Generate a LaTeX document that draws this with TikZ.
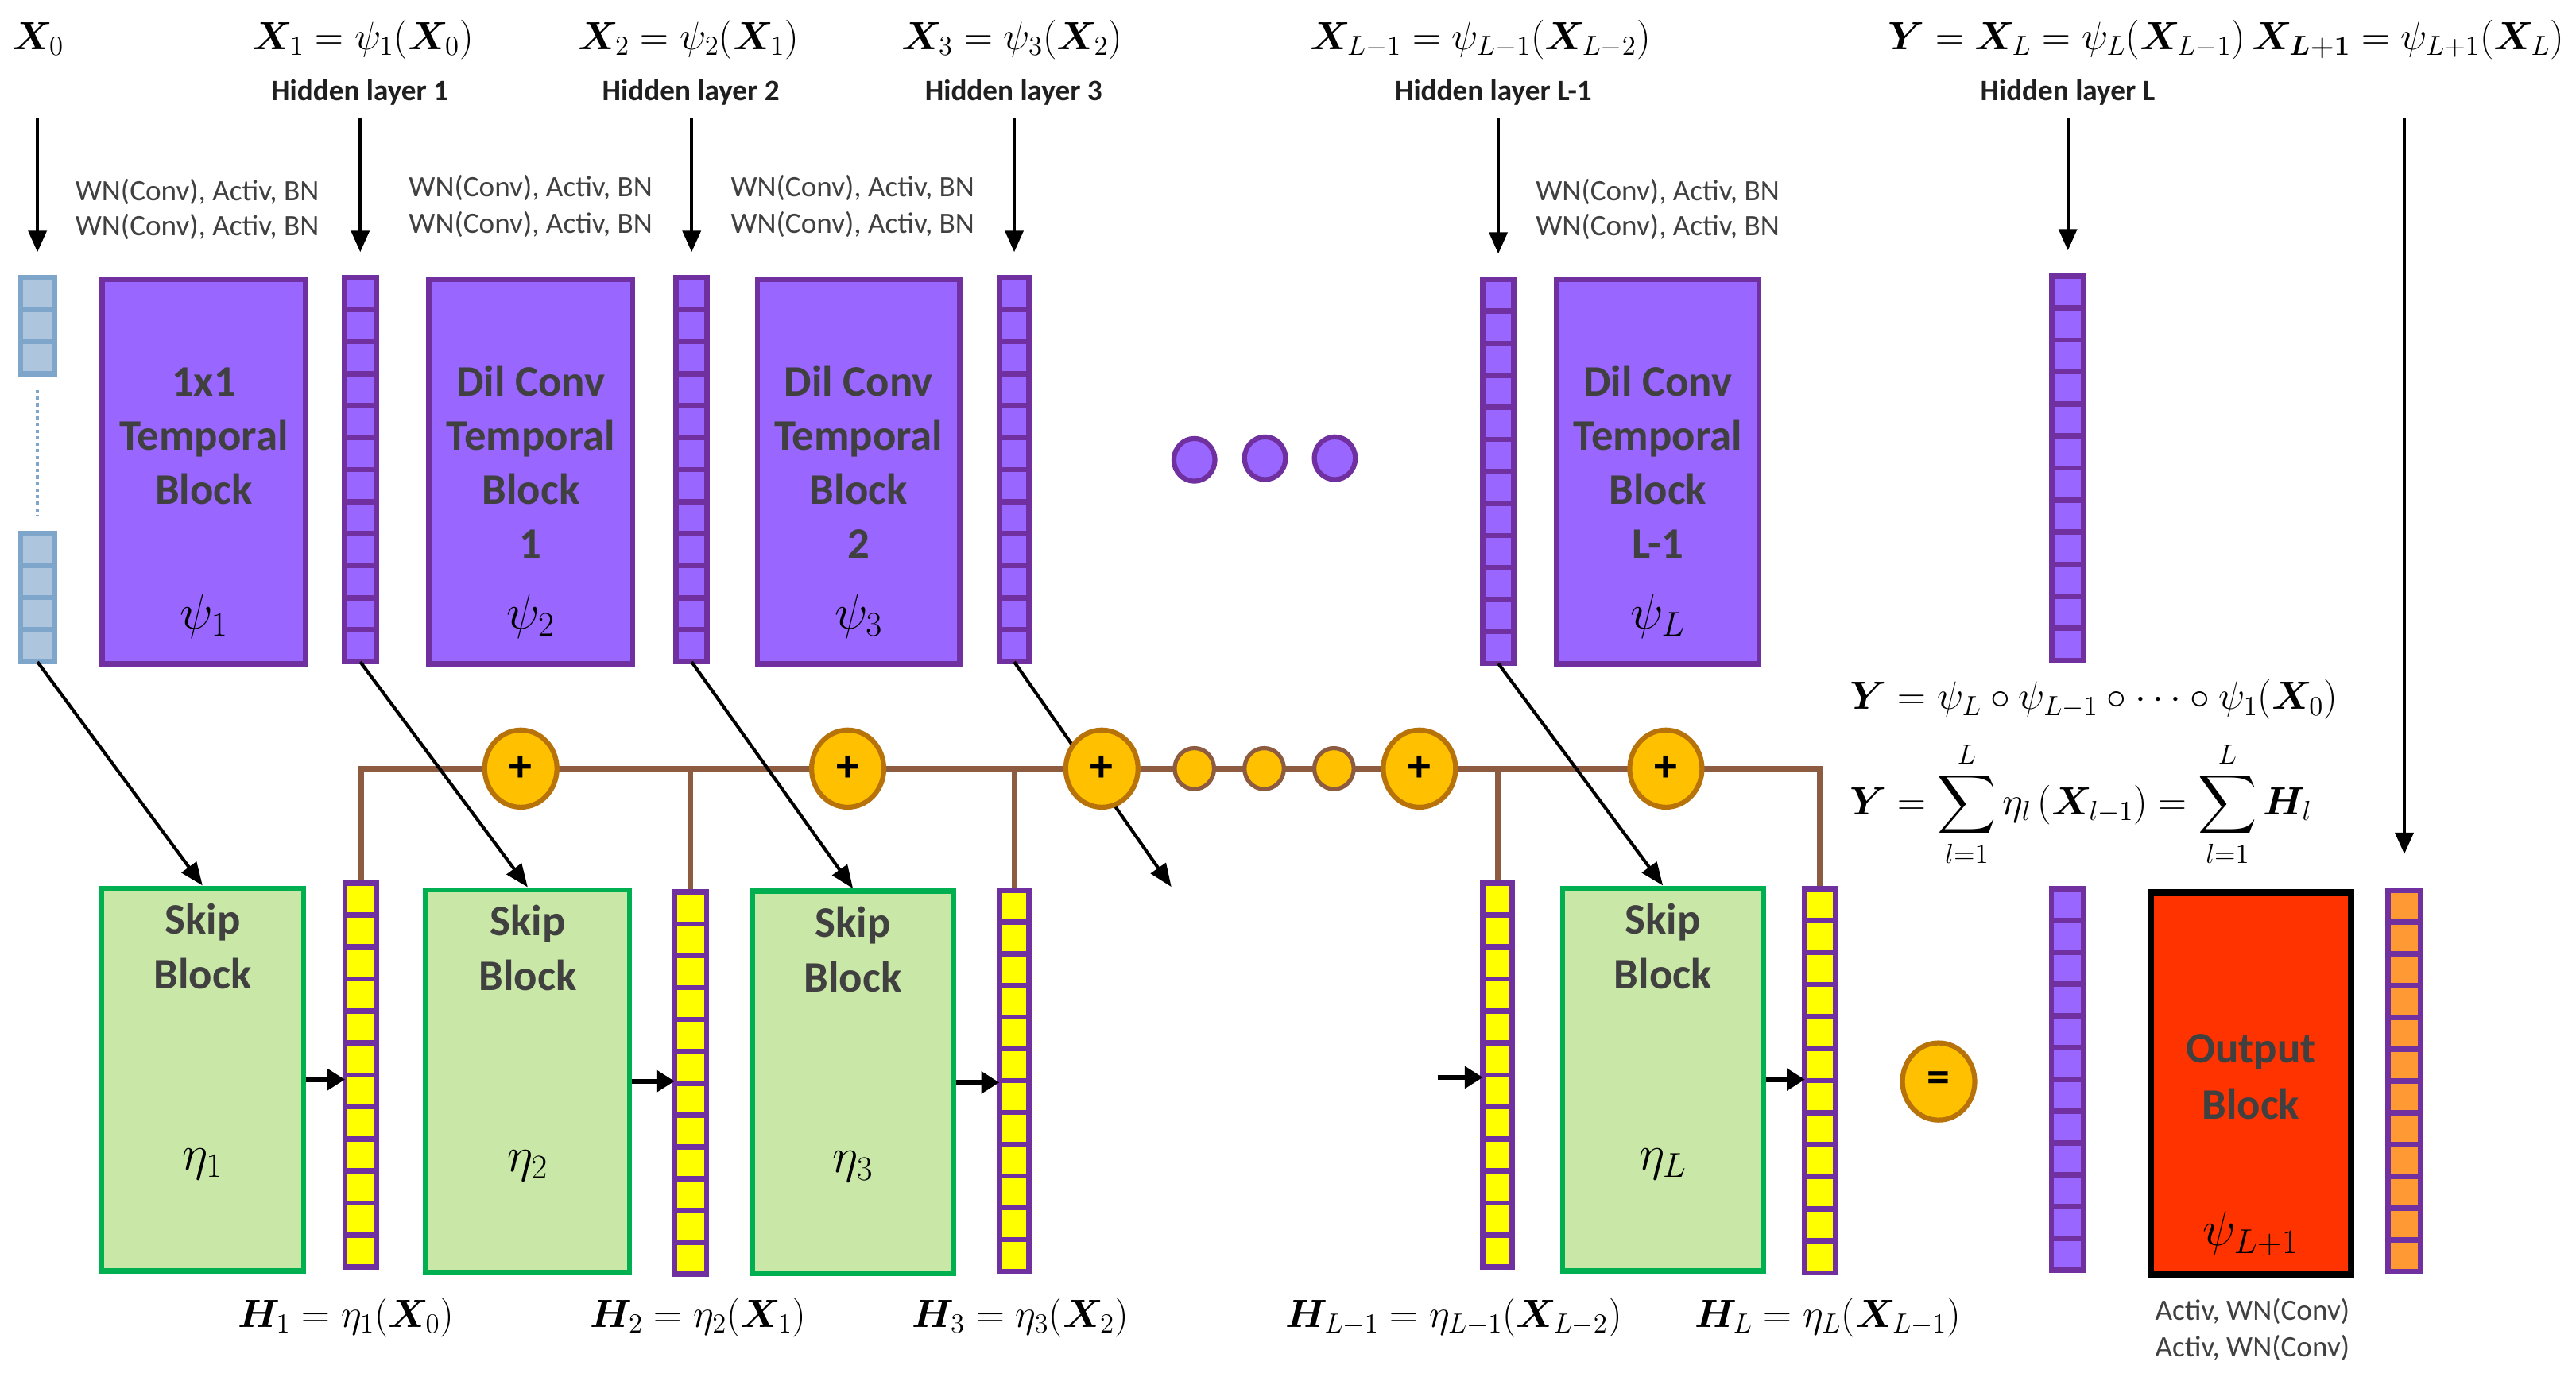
\RequirePackage{fix-cm}
\documentclass[tikz,border=0pt]{standalone}
\usepackage{amsmath}
\usepackage{bm}
\usepackage{fontspec}
\newfontfamily\cfont{Carlito}
\usetikzlibrary{calc,arrows.meta,shapes.geometric}
\pgfdeclarelayer{bg}
\pgfsetlayers{bg,main}
\definecolor{pF}{HTML}{9966FF}
\definecolor{pD}{HTML}{7030A0}
\definecolor{xF}{HTML}{ADC6DD}
\definecolor{xD}{HTML}{7EA6CA}
\definecolor{gF}{HTML}{C9E7A7}
\definecolor{gD}{HTML}{00B050}
\definecolor{yF}{HTML}{FFFF00}
\definecolor{rF}{HTML}{FF3300}
\definecolor{ocF}{HTML}{FF9933}
\definecolor{oF}{HTML}{FFC000}
\definecolor{oD}{HTML}{B8720A}
\definecolor{bD}{HTML}{8D5B3F}
\definecolor{txtG}{HTML}{404040}
\newcommand{\blkf}{\cfont\bfseries\fontsize{26.5}{33}\selectfont}
\newcommand{\wnf}{\cfont\fontsize{18}{22}\selectfont}
\newcommand{\hidf}{\cfont\bfseries\fontsize{18}{22}\selectfont}
\newcommand{\msz}{\fontsize{24}{28}\selectfont}
\newcommand{\ssz}{\fontsize{30}{34}\selectfont}
\newcommand{\plsf}{\cfont\bfseries\fontsize{28}{30}\selectfont}
% column of cells: name, xleft, ytop, xright, ybottom, nsep, fill, draw
\newcommand{\vcol}[8]{%
  \node[draw=#8, fill=#7, line width=3.2pt, inner sep=0pt, outer sep=0pt, anchor=north west,
        minimum width={(#4)-(#2)}, minimum height={(#5)-(#3)}] (#1) at (#2,#3) {};
  \foreach \k in {1,...,#6}{\draw[#8, line width=3.2pt]
     ($(#1.north west)!{\k/(#6+1)}!(#1.south west)$) -- ($(#1.north east)!{\k/(#6+1)}!(#1.south east)$);}
}
\begin{document}
\begin{tikzpicture}[x=1pt,y=-1pt,
 arr/.style={-{Triangle[length=13pt,width=11pt]}, line width=2pt, draw=black},
 darr/.style={-{Triangle[length=14pt,width=11pt]}, line width=2pt, draw=black},
 harr/.style={-{Triangle[length=11pt,width=13pt]}, line width=3pt, draw=black},
 tblock/.style={draw=pD, fill=pF, line width=3.2pt, inner sep=0pt, anchor=north west, minimum width=124pt, minimum height=234pt},
 sblock/.style={draw=gD, fill=gF, line width=3.2pt, inner sep=0pt, anchor=north west, minimum width=123pt, minimum height=233pt},
 plus/.style={ellipse, draw=oD, fill=oF, line width=3pt, minimum width=44pt, minimum height=47pt, inner sep=0pt, font=\plsf},
 odot/.style={ellipse, draw=bD, fill=oF, line width=2.5pt, minimum width=24pt, minimum height=25pt, inner sep=0pt},
 pdot/.style={ellipse, draw=pD, fill=pF, line width=3pt, minimum width=25pt, minimum height=26pt, inner sep=0pt},
 bline/.style={draw=bD, line width=3.4pt},
 lbl/.style={anchor=base, inner sep=0pt},
 btxt/.style={lbl, font=\blkf, text=txtG},
 wn/.style={lbl, font=\wnf, text=txtG},
 hid/.style={lbl, font=\hidf, text=black!88},
 mth/.style={lbl, font=\msz},
 sym/.style={lbl, font=\ssz},
]
\useasboundingbox (0,0) rectangle (1568,838);

% ---------- top row blocks
\node[tblock] (b1) at (60.5,168.5) {};
\node[tblock] (b2) at (259.5,168.5) {};
\node[tblock, minimum width=123pt] (b3) at (459.5,168.5) {};
\node[tblock, minimum width=123pt] (bL) at (946,168.5) {};

% ---------- top row columns
\vcol{x0a}{12.6}{169}{33}{227.5}{2}{xF}{xD}
\vcol{x0b}{12.6}{324.6}{33}{403}{3}{xF}{xD}
\vcol{h1}{209.6}{169}{229}{403}{11}{pF}{pD}
\vcol{h2}{411.6}{169}{430.4}{403}{11}{pF}{pD}
\vcol{h3}{608.3}{169}{626.4}{403}{11}{pF}{pD}
\vcol{hLm1}{902.6}{170}{921.4}{404}{11}{pF}{pD}
\vcol{hL}{1249}{168}{1268.4}{402}{11}{pF}{pD}
\draw[xD, line width=1.8pt, dash pattern=on 2pt off 2pt] ($(x0a.south)+(0,10)$) -- ($(x0b.north)+(0,-10)$);

% ---------- bottom row
\node[sblock] (sk1) at (60.2,539.2) {};
\node[sblock, minimum width=124pt] (sk2) at (257.6,540.2) {};
\node[sblock, minimum width=122pt] (sk3) at (456.6,541) {};
\node[sblock, minimum width=122pt] (skL) at (949.6,539.2) {};
\vcol{y1}{210}{537.6}{229.4}{771.4}{11}{yF}{pD}
\vcol{y2}{410.6}{543.2}{430}{775.9}{11}{yF}{pD}
\vcol{y3}{608.3}{542}{626.4}{774}{11}{yF}{pD}
\vcol{yLm1}{902.6}{537.6}{920.4}{771.4}{11}{yF}{pD}
\vcol{yL}{1098.6}{541}{1117}{775}{11}{yF}{pD}
\vcol{pc}{1248.6}{541}{1268}{773.4}{11}{pF}{pD}
\node[draw=black, fill=rF, line width=4pt, inner sep=0pt, anchor=north west, minimum width=122pt, minimum height=232.5pt] (ob) at (1307,541.5) {};
\vcol{oc}{1453.6}{542}{1473.4}{774.4}{11}{ocF}{pD}

% ---------- brown bus (behind)
\coordinate (bus) at (0,468);
\begin{pgfonlayer}{bg}
\fill[white] (0,0) rectangle (1568,838);
\draw[bline] (y1.north) -- (y1.north |- bus) -- (yL.north |- bus) -- (yL.north);
\foreach \c in {y2,y3,yLm1} \draw[bline] (\c.north) -- (\c.north |- bus);
\end{pgfonlayer}

% ---------- arrows from top
\coordinate (atop) at (0,71.5);
\foreach \c in {x0a,h1,h2,h3,hLm1,hL} \draw[arr] (\c.north |- atop) -- ($(\c.north)+(0,-15.5)$);
\draw[arr] (oc.north |- atop) -- ($(oc.north)+(0,-22)$);

% ---------- diagonal arrows
\coordinate (c3end) at (713,540);
\draw[darr] (x0b.south) -- (sk1.north);
\draw[darr] (h1.south) -- (sk2.north);
\draw[darr] (h2.south) -- (sk3.north);
\draw[darr] (h3.south) -- (c3end);
\draw[darr] (hLm1.south) -- (skL.north);

% ---------- small horizontal arrows
\coordinate (hs) at (875,656);
\draw[harr] (sk1.east) -- (y1.west |- sk1.east);
\draw[harr] (sk2.east) -- (y2.west |- sk2.east);
\draw[harr] (sk3.east) -- (y3.west |- sk3.east);
\draw[harr] (hs) -- (yLm1.west |- hs);
\draw[harr] (skL.east) -- (yL.west |- skL.east);

% ---------- circles
\node[plus] (p1) at (317,468) {+};
\node[plus] (p2) at (516,468) {+};
\node[plus] (p3) at (670.7,468) {+};
\node[plus] (p4) at (864,468) {+};
\node[plus] (p5) at (1014,468) {+};
\node[odot] (o1) at (727,468) {};
\node[odot] (o2) at (769.5,468) {};
\node[odot] (o3) at (812,468) {};
\node[pdot] (d1) at (727,280) {};
\node[pdot] (d2) at (770,279) {};
\node[pdot] (d3) at (812.5,279) {};
\node[plus] (eq) at (1180,658.5) {=};

% ---------- top labels
\node[mth] (lx0) at (23,30) {$\bm{X}_0$};
\node[mth] (lx1) at (221,30) {$\bm{X}_1=\psi_1(\bm{X}_0)$};
\node[mth] (lx2) at (419,30) {$\bm{X}_2=\psi_2(\bm{X}_1)$};
\node[mth] (lx3) at (616,30) {$\bm{X}_3=\psi_3(\bm{X}_2)$};
\node[mth] (lxl) at (901,30) {$\bm{X}_{L-1}=\psi_{L-1}(\bm{X}_{L-2})$};
\node[mth] (ly) at (1355,30) {$\bm{Y}=\bm{X}_L=\psi_L(\bm{X}_{L-1})\,\bm{X}_{\bm{L+1}}=\psi_{L+1}(\bm{X}_L)$};

\node[hid] (hl1) at (219,61) {Hidden layer 1};
\node[hid] (hl2) at (420.5,61) {Hidden layer 2};
\node[hid] (hl3) at (617,61) {Hidden layer 3};
\node[hid] (hl4) at (909,61) {Hidden layer L-1};
\node[hid] (hl5) at (1258.6,61) {Hidden layer L};

\node[wn] (w1a) at (120,122) {WN(Conv), Activ, BN};
\node[wn] (w1b) at (120,143.5) {WN(Conv), Activ, BN};
\node[wn] (w2a) at (323,119.5) {WN(Conv), Activ, BN};
\node[wn] (w2b) at (323,142) {WN(Conv), Activ, BN};
\node[wn] (w3a) at (519,119.5) {WN(Conv), Activ, BN};
\node[wn] (w3b) at (519,142) {WN(Conv), Activ, BN};
\node[wn] (w4a) at (1009,122) {WN(Conv), Activ, BN};
\node[wn] (w4b) at (1009,143.5) {WN(Conv), Activ, BN};

% ---------- block texts (top)
\node[btxt] (t1a) at ($(b1.north)+(0,72.5)$) {1x1};
\node[btxt] (t1b) at ($(b1.north)+(0,105.5)$) {Temporal};
\node[btxt] (t1c) at ($(b1.north)+(0,138.5)$) {Block};
\node[sym] (t1s) at ($(b1.north)+(0,214.5)$) {$\psi_1$};
\node[btxt] (t2a) at ($(b2.north)+(0,72.5)$) {Dil Conv};
\node[btxt] (t2b) at ($(b2.north)+(0,105.5)$) {Temporal};
\node[btxt] (t2c) at ($(b2.north)+(0,138.5)$) {Block};
\node[btxt] (t2d) at ($(b2.north)+(0,171.5)$) {1};
\node[sym] (t2s) at ($(b2.north)+(0,214.5)$) {$\psi_2$};
\node[btxt] (t3a) at ($(b3.north)+(0,72.5)$) {Dil Conv};
\node[btxt] (t3b) at ($(b3.north)+(0,105.5)$) {Temporal};
\node[btxt] (t3c) at ($(b3.north)+(0,138.5)$) {Block};
\node[btxt] (t3d) at ($(b3.north)+(0,171.5)$) {2};
\node[sym] (t3s) at ($(b3.north)+(0,214.5)$) {$\psi_3$};
\node[btxt] (t4a) at ($(bL.north)+(0,72.5)$) {Dil Conv};
\node[btxt] (t4b) at ($(bL.north)+(0,105.5)$) {Temporal};
\node[btxt] (t4c) at ($(bL.north)+(0,138.5)$) {Block};
\node[btxt] (t4d) at ($(bL.north)+(0,171.5)$) {L-1};
\node[sym] (t4s) at ($(bL.north)+(0,214.5)$) {$\psi_L$};

% ---------- block texts (bottom)
\node[btxt] (s1a) at ($(sk1.north)+(0,29.5)$) {Skip};
\node[btxt] (s1b) at ($(sk1.north)+(0,63)$) {Block};
\node[sym] (s1s) at ($(sk1.north)+(0,173)$) {$\eta_1$};
\node[btxt] (s2a) at ($(sk2.north)+(0,29.5)$) {Skip};
\node[btxt] (s2b) at ($(sk2.north)+(0,63)$) {Block};
\node[sym] (s2s) at ($(sk2.north)+(0,173)$) {$\eta_2$};
\node[btxt] (s3a) at ($(sk3.north)+(0,29.5)$) {Skip};
\node[btxt] (s3b) at ($(sk3.north)+(0,63)$) {Block};
\node[sym] (s3s) at ($(sk3.north)+(0,173)$) {$\eta_3$};
\node[btxt] (s4a) at ($(skL.north)+(0,29.5)$) {Skip};
\node[btxt] (s4b) at ($(skL.north)+(0,63)$) {Block};
\node[sym] (s4s) at ($(skL.north)+(0,173)$) {$\eta_L$};
\node[btxt] (oa) at ($(ob.north)+(0,105.5)$) {Output};
\node[btxt] (obk) at ($(ob.north)+(0,140)$) {Block};
\node[sym] (os) at ($(ob.north)+(0,217)$) {$\psi_{L+1}$};
\node[wn] (ac1) at (1371,804) {Activ, WN(Conv)};
\node[wn] (ac2) at (1371,826) {Activ, WN(Conv)};

% ---------- formulas
\node[mth, anchor=base west] (f1) at (1126,432) {$\bm{Y}=\psi_L\circ\psi_{L-1}\circ\cdots\circ\psi_1(\bm{X}_0)$};
\node[mth, anchor=base west] (f2) at (1126,496) {$\displaystyle \bm{Y}=\sum_{l=1}^{L}\eta_l\,(\bm{X}_{l-1})=\sum_{l=1}^{L}\bm{H}_l$};

\node[mth] (lh1) at (210.5,808) {$\bm{H}_1=\eta_1(\bm{X}_0)$};
\node[mth] (lh2) at (425,808) {$\bm{H}_2=\eta_2(\bm{X}_1)$};
\node[mth] (lh3) at (621,808) {$\bm{H}_3=\eta_3(\bm{X}_2)$};
\node[mth] (lh4) at (885,808) {$\bm{H}_{L-1}=\eta_{L-1}(\bm{X}_{L-2})$};
\node[mth] (lh5) at (1112.5,808) {$\bm{H}_L=\eta_L(\bm{X}_{L-1})$};
\end{tikzpicture}
\end{document}
